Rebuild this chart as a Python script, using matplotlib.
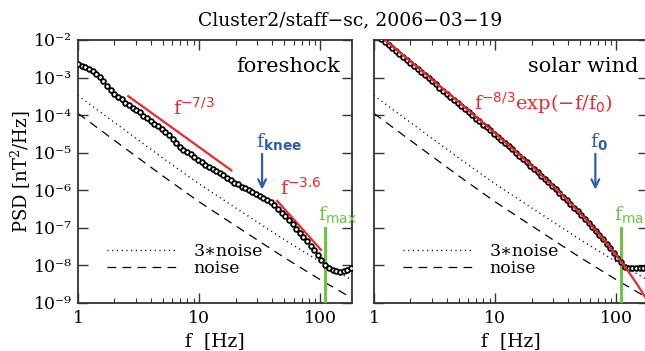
import numpy as np
import matplotlib
matplotlib.use("Agg")
import matplotlib.pyplot as plt
from matplotlib.ticker import FixedLocator, FixedFormatter, NullLocator, LogLocator

plt.rcParams["font.family"] = ["DejaVu Serif", "DejaVu Sans"]
plt.rcParams["mathtext.fontset"] = "custom"
plt.rcParams["mathtext.rm"] = "DejaVu Serif"
plt.rcParams["mathtext.it"] = "DejaVu Serif"
plt.rcParams["mathtext.sf"] = "DejaVu Sans"
plt.rcParams["mathtext.bf"] = "DejaVu Sans:bold"

# spectra (log-binned frequencies, Hz)
freq = [1.00, 1.07, 1.15, 1.23, 1.32, 1.41, 1.51, 1.62, 1.74, 1.86,
        2.00, 2.14, 2.29, 2.45, 2.63, 2.82, 3.02, 3.24, 3.47, 3.72,
        3.98, 4.27, 4.57, 4.90, 5.25, 5.62, 6.03, 6.46, 6.92, 7.41,
        7.94, 8.51, 9.12, 9.77, 10.5, 11.2, 12.0, 12.9, 13.8, 14.8,
        15.8, 17.0, 18.2, 19.5, 20.9, 22.4, 24.0, 25.7, 27.5, 29.5,
        31.6, 33.9, 36.3, 38.9, 41.7, 44.7, 47.9, 51.3, 55.0, 58.9,
        63.1, 67.6, 72.4, 77.6, 83.2, 89.1, 95.5, 102, 110, 117,
        126, 135, 145, 155, 166, 178]

psd_foreshock = [2.30e-3, 2.04e-3, 1.86e-3, 1.64e-3, 1.45e-3, 1.28e-3, 1.04e-3, 7.87e-4, 5.98e-4, 4.54e-4,
                 3.56e-4, 3.05e-4, 2.62e-4, 2.11e-4, 1.81e-4, 1.55e-4, 1.39e-4, 1.18e-4, 9.23e-5, 8.17e-5,
                 6.80e-5, 5.83e-5, 5.00e-5, 4.17e-5, 3.47e-5, 2.88e-5, 2.33e-5, 1.77e-5, 1.43e-5, 1.19e-5,
                 1.03e-5, 9.01e-6, 7.50e-6, 6.55e-6, 5.69e-6, 4.83e-6, 4.19e-6, 3.71e-6, 3.28e-6, 2.87e-6,
                 2.54e-6, 2.18e-6, 1.86e-6, 1.59e-6, 1.43e-6, 1.25e-6, 1.13e-6, 1.01e-6, 9.06e-7, 8.12e-7,
                 7.18e-7, 6.40e-7, 5.56e-7, 4.86e-7, 3.96e-7, 3.20e-7, 2.51e-7, 2.02e-7, 1.58e-7, 1.24e-7,
                 9.40e-8, 7.36e-8, 5.58e-8, 4.38e-8, 3.32e-8, 2.52e-8, 1.91e-8, 1.41e-8, 1.04e-8, 8.38e-9,
                 7.41e-9, 6.97e-9, 6.76e-9, 6.97e-9, 7.64e-9, 8.63e-9]

psd_solarwind = [1.55e-2, 1.29e-2, 1.07e-2, 8.9e-3, 7.4e-3, 6.2e-3, 5.1e-3, 4.3e-3, 3.5e-3, 2.95e-3,
                 2.40e-3, 2.00e-3, 1.66e-3, 1.38e-3, 1.15e-3, 9.5e-4, 7.9e-4, 6.6e-4, 5.4e-4, 4.5e-4,
                 3.7e-4, 3.1e-4, 2.57e-4, 2.09e-4, 1.74e-4, 1.45e-4, 1.20e-4, 1.00e-4, 8.1e-5, 6.8e-5,
                 5.6e-5, 4.7e-5, 3.9e-5, 3.24e-5, 2.69e-5, 2.19e-5, 1.82e-5, 1.48e-5, 1.23e-5, 1.00e-5,
                 8.3e-6, 6.8e-6, 5.5e-6, 4.47e-6, 3.63e-6, 3.02e-6, 2.45e-6, 2.00e-6, 1.62e-6, 1.32e-6,
                 1.05e-6, 8.5e-7, 6.8e-7, 5.5e-7, 4.37e-7, 3.47e-7, 2.75e-7, 2.19e-7, 1.74e-7, 1.35e-7,
                 1.05e-7, 8.1e-8, 6.3e-8, 4.9e-8, 3.72e-8, 2.82e-8, 2.14e-8, 1.62e-8, 1.20e-8, 9.1e-9,
                 8.7e-9, 8.5e-9, 8.3e-9, 8.3e-9, 8.5e-9, 8.7e-9]

# instrument noise level
noise_f = [1, 2, 5, 10, 20, 50, 100, 180, 200]
noise_psd = [1.11e-4, 2.12e-5, 2.41e-6, 4.91e-7, 1.13e-7, 1.64e-8, 4.14e-9, 1.37e-9, 1.12e-9]
noise_factor = 3

# power-law fits, foreshock
fit73_f = [2.6, 18.4]
fit73_psd = [3.2e-4, 3.4e-6]
fit36_f = [44, 101]
fit36_psd = [5.2e-7, 2.6e-8]

# f^-8/3 exp(-f/f0) fit, solar wind
fitsw_f = [1, 2, 5, 10, 15, 20, 30, 40, 50, 60, 70, 85, 100, 115, 130, 150, 180, 200]
fitsw_psd = [1.73e-2, 2.69e-3, 2.23e-4, 3.26e-5, 1.03e-5, 4.43e-6, 1.29e-6, 5.18e-7, 2.45e-7,
             1.30e-7, 7.43e-8, 3.54e-8, 1.84e-8, 1.01e-8, 5.82e-9, 2.95e-9, 1.16e-9, 6.5e-10]

f_knee = 33
f_0 = 67
f_max = 110

ytick_exp = [-9, -8, -7, -6, -5, -4, -3, -2]
ytick_labels = ["10\u207b\u2079", "10\u207b\u2078", "10\u207b\u2077", "10\u207b\u2076",
                "10\u207b\u2075", "10\u207b\u2074", "10\u207b\u00b3", "10\u207b\u00b2"]
xtick_vals = [1, 10, 100]
xtick_labels = ["1", "10", "100"]

RED = "#f0282d"
BLUE = "#2d5fae"
GREEN = "#6cc644"
AXC = "#333333"

fig = plt.figure(figsize=(6.45, 3.51), dpi=100)
axl = fig.add_axes([0.1209, 0.1368, 0.4248, 0.7493])
axr = fig.add_axes([0.5798, 0.1368, 0.4248, 0.7493])

nf = np.array(noise_f)
npsd = np.array(noise_psd)

for ax, psd in ((axl, psd_foreshock), (axr, psd_solarwind)):
    ax.set_xscale("log")
    ax.set_yscale("log")
    ax.set_xlim(1, 182)
    ax.set_ylim(1e-9, 1e-2)
    ax.plot(nf, noise_factor * npsd, color="black", lw=1.0, ls=(0, (0.8, 2.6)),
            label="3\u2217noise")
    ax.plot(nf, npsd, color="black", lw=0.9, ls=(0, (7, 5)), label="noise")
    ax.plot(freq, psd, ls="none", marker="o", ms=3.4, mfc="white", mec="black",
            mew=1.3, zorder=4)
    ax.axvline(f_max, ymin=0, ymax=(np.log10(1e-7) + 9) / 7, color=GREEN, lw=2.2, zorder=3)
    ax.text(f_max * 0.86, 1.6e-7, r"f$_{\mathsf{max}}$", color=GREEN, fontsize=14,
            ha="left", va="baseline")
    ax.legend(loc="lower left", bbox_to_anchor=(0.105, 0.097), frameon=False,
              handlelength=4.0, handletextpad=1.0, labelspacing=0.05,
              borderpad=0, borderaxespad=0, fontsize=12.5)

    ax.xaxis.set_major_locator(FixedLocator(xtick_vals))
    ax.xaxis.set_major_formatter(FixedFormatter(xtick_labels))
    ax.xaxis.set_minor_locator(LogLocator(base=10, subs=np.arange(2, 10)))
    ax.yaxis.set_major_locator(FixedLocator([10.0 ** e for e in ytick_exp]))
    ax.yaxis.set_major_formatter(FixedFormatter(ytick_labels))
    ax.yaxis.set_minor_locator(NullLocator())
    ax.tick_params(which="both", direction="in", top=True, right=True, color=AXC)
    ax.tick_params(which="major", length=7, width=1.0, pad=5)
    ax.tick_params(axis="x", labelsize=12.5)
    ax.tick_params(axis="y", labelsize=12.5, pad=4)
    ax.tick_params(which="minor", length=3.5, width=0.8)
    for s in ax.spines.values():
        s.set_linewidth(1.3)
        s.set_color(AXC)
    ax.set_xlabel("f  [Hz]", fontsize=13.5, labelpad=4)

# foreshock panel
axl.plot(fit73_f, fit73_psd, color=RED, lw=1.6)
axl.plot(fit36_f, fit36_psd, color=RED, lw=1.6)
axl.text(6.1, 1.05e-4, r"f$^{\mathsf{-7/3}}$", color=RED, fontsize=14, va="baseline")
axl.text(46.8, 7.6e-7, r"f$^{\mathsf{-3.6}}$", color=RED, fontsize=14, va="baseline")
axl.annotate("", xy=(f_knee, 8.8e-7), xytext=(f_knee, 1.1e-5),
             arrowprops=dict(arrowstyle="->", color=BLUE, lw=1.6, mutation_scale=14))
axl.text(f_knee * 0.89, 1.45e-5, r"f$_{\mathbf{knee}}$", color=BLUE, fontsize=14,
         va="baseline", ha="left")
axl.text(0.955, 0.9, "foreshock", transform=axl.transAxes, ha="right", va="center",
         fontsize=15)
axl.set_ylabel(r"PSD [nT$^2$/Hz]", fontsize=13, labelpad=1)

# solar wind panel
axr.plot(fitsw_f, fitsw_psd, color=RED, lw=1.6, zorder=5)
axr.text(6.7, 1.38e-4, "f$^{\\mathsf{-8/3}}$exp(\u2212f/f$_{\\mathsf{0}}$)", color=RED,
         fontsize=14, va="baseline")
axr.annotate("", xy=(f_0, 8.8e-7), xytext=(f_0, 1.1e-5),
             arrowprops=dict(arrowstyle="->", color=BLUE, lw=1.6, mutation_scale=14))
axr.text(f_0 * 0.9, 1.45e-5, r"f$_{\mathbf{0}}$", color=BLUE, fontsize=14,
         va="baseline", ha="left")
axr.text(0.965, 0.9, "solar wind", transform=axr.transAxes, ha="right", va="center",
         fontsize=15)
axr.tick_params(labelleft=False)

fig.text(0.543, 0.943, "Cluster2/staff\u2212sc, 2006\u221203\u221219", ha="center",
         va="center", fontsize=13.5)

fig.savefig("out.png", dpi=100)
